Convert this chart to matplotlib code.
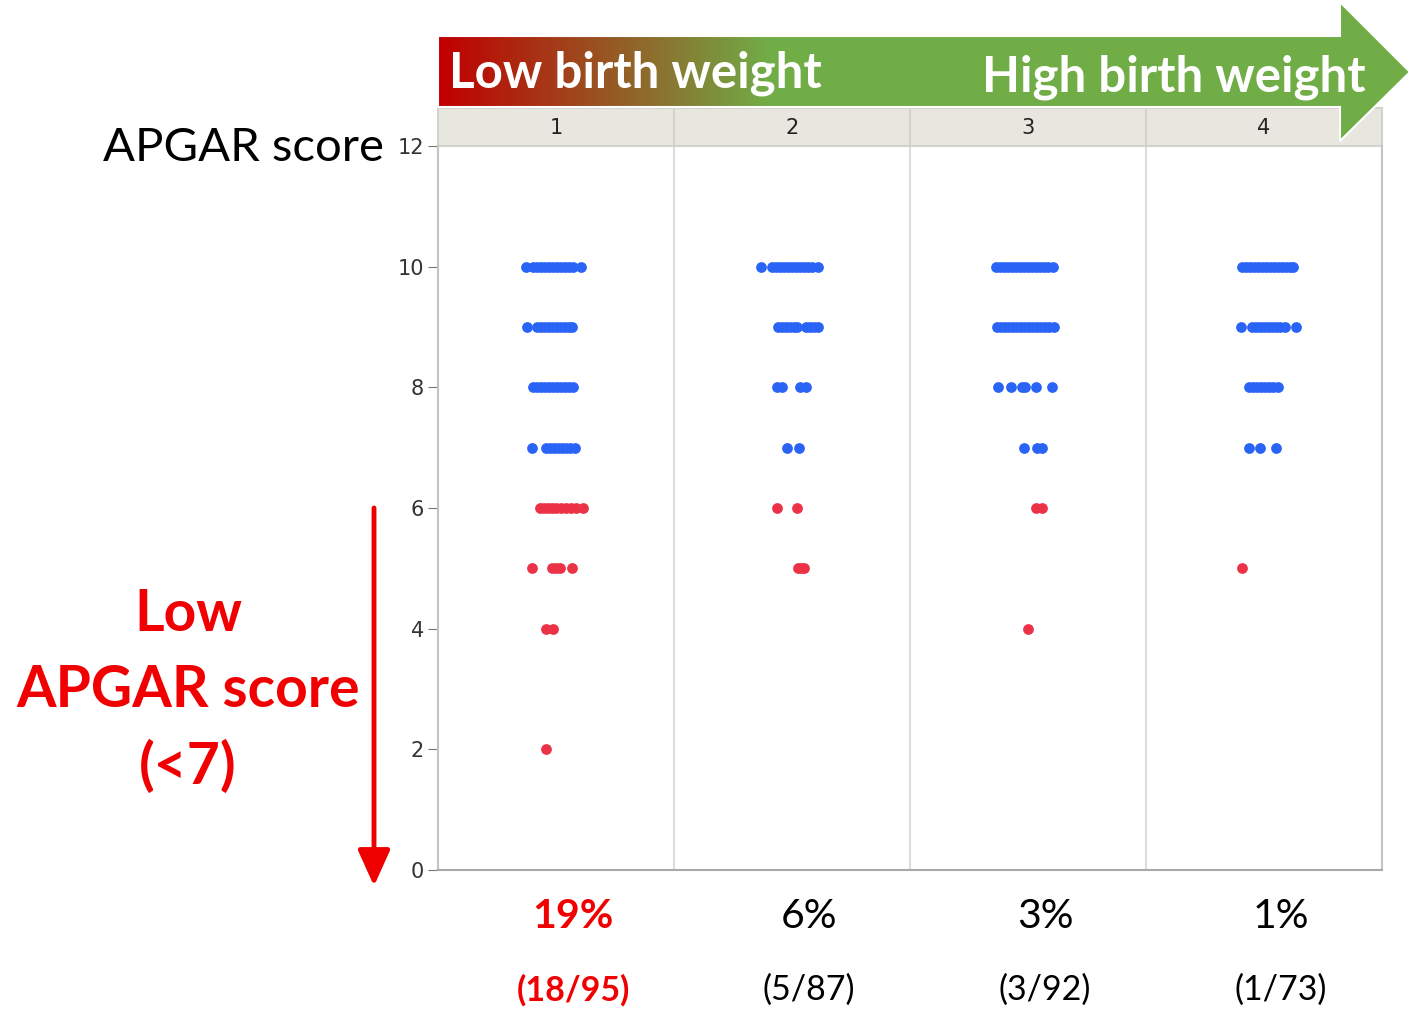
import matplotlib
matplotlib.use("Agg")
from matplotlib import pyplot as plt
from matplotlib.patches import Polygon, Rectangle
from matplotlib.colors import LinearSegmentedColormap
import numpy as np

# birth weight groups (1 = lowest)
groups = [1, 2, 3, 4]
low_pct = ["19%", "6%", "3%", "1%"]
low_frac = ["(18/95)", "(5/87)", "(3/92)", "(1/73)"]

# APGAR score -> horizontal jitter (fraction of group width) of each visible dot
g1_dots = {
    10: [-0.127, -0.097, -0.081, -0.064, -0.047, -0.030, -0.013, 0.004, 0.021, 0.038, 0.055, 0.072, 0.106],
    9: [-0.123, -0.081, -0.064, -0.047, -0.030, -0.013, 0.004, 0.021, 0.038, 0.055, 0.068],
    8: [-0.097, -0.081, -0.064, -0.047, -0.030, -0.013, 0.004, 0.021, 0.038, 0.055, 0.072],
    7: [-0.102, -0.042, -0.025, -0.008, 0.008, 0.025, 0.042, 0.059, 0.081],
    6: [-0.068, -0.051, -0.034, -0.017, 0.0, 0.021, 0.042, 0.064, 0.085, 0.114],
    5: [-0.102, -0.017, 0.0, 0.017, 0.068],
    4: [-0.042, -0.013],
    2: [-0.042],
}
g2_dots = {
    10: [-0.131, -0.085, -0.068, -0.051, -0.034, -0.017, 0.0, 0.017, 0.034, 0.051, 0.068, 0.085, 0.110],
    9: [-0.059, -0.042, -0.025, -0.008, 0.008, 0.021, 0.059, 0.076, 0.093, 0.110],
    8: [-0.064, -0.042, 0.034, 0.059],
    7: [-0.021, 0.030],
    6: [-0.064, 0.021],
    5: [0.025, 0.038, 0.051],
}
g3_dots = {
    10: [-0.136, -0.119, -0.102, -0.085, -0.068, -0.051, -0.034, -0.017, 0.0, 0.017, 0.034, 0.051, 0.068, 0.085, 0.106],
    9: [-0.131, -0.114, -0.097, -0.081, -0.064, -0.047, -0.030, -0.013, 0.004, 0.021, 0.038, 0.055, 0.072, 0.089, 0.110],
    8: [-0.127, -0.072, -0.025, -0.013, 0.034, 0.102],
    7: [-0.017, 0.038, 0.059],
    6: [0.034, 0.059],
    4: [0.0],
}
g4_dots = {
    10: [-0.093, -0.076, -0.059, -0.042, -0.025, -0.008, 0.008, 0.025, 0.042, 0.059, 0.076, 0.093, 0.110, 0.123],
    9: [-0.097, -0.051, -0.034, -0.017, 0.0, 0.017, 0.034, 0.051, 0.068, 0.089, 0.136],
    8: [-0.064, -0.047, -0.030, -0.013, 0.004, 0.021, 0.038, 0.059],
    7: [-0.064, -0.017, 0.051],
    5: [-0.093],
}
all_dots = [g1_dots, g2_dots, g3_dots, g4_dots]

BLUE = "#2A64F6"
RED = "#EC3246"
TXT_RED = "#F00000"
W, H = 1410, 1009

fig = plt.figure(figsize=(W / 100, H / 100), dpi=100)
ax = fig.add_axes([438 / W, 1 - 870 / H, 944 / W, 724 / H])

for g, dots in zip(groups, all_dots):
    for score, jit in dots.items():
        xs = [g + j for j in jit]
        ys = [score] * len(jit)
        ax.scatter(xs, ys, s=60, color=RED if score < 7 else BLUE, linewidths=0, zorder=3)

ax.set_xlim(0.5, 4.5)
ax.set_ylim(0, 12)
ax.set_yticks(range(0, 13, 2))
ax.set_xticks([])
ax.tick_params(axis="y", length=7, color="#777777", labelsize=15, labelcolor="#333333", pad=3)
for sp in ["left", "right"]:
    ax.spines[sp].set_color("#C4C4C4")
    ax.spines[sp].set_linewidth(1.5)
ax.spines["bottom"].set_color("#A8A8A8")
ax.spines["bottom"].set_linewidth(1.5)
ax.spines["top"].set_visible(False)
for xv in [1.5, 2.5, 3.5]:
    ax.axvline(xv, color="#DCDCDC", lw=1.5, zorder=1)

# strip headers
for g in groups:
    ax.add_patch(Rectangle((g - 0.5, 12), 1, 0.63, facecolor="#E8E7DF", edgecolor="#D4D3CA",
                           lw=1.5, clip_on=False, zorder=2))
    ax.text(g, 12.3, str(g), ha="center", va="center", fontsize=15, color="#222222")

# percentages below each group
for g, p, f in zip(groups, low_pct, low_frac):
    c = TXT_RED if g == 1 else "black"
    wt = "bold" if g == 1 else "normal"
    ax.text(g + 0.072, -0.08, p, transform=ax.get_xaxis_transform(), ha="center", va="baseline",
            fontsize=29.5, color=c, fontweight=wt, family="Lato")
    ax.text(g + 0.072, -0.18, f, transform=ax.get_xaxis_transform(), ha="center", va="baseline",
            fontsize=24.5, color=c, fontweight=wt, family="Lato")

# overlay in pixel coordinates for annotations
ov = fig.add_axes([0, 0, 1, 1], zorder=5)
ov.set_xlim(0, W)
ov.set_ylim(H, 0)
ov.axis("off")
ov.patch.set_alpha(0)

arrow_pts = [(438, 36), (1340, 36), (1340, 2), (1410, 72), (1340, 141), (1340, 107), (438, 107)]
poly = Polygon(arrow_pts, closed=True, facecolor="none", edgecolor="white", lw=1.5)
ov.add_patch(poly)
cmap = LinearSegmentedColormap.from_list("bw", [(0, "#C00000"), (0.34, "#70AD47"), (1, "#70AD47")])
grad = np.linspace(0, 1, 256).reshape(1, -1)
im = ov.imshow(grad, cmap=cmap, extent=(438, 1410, 142, 0), aspect="auto", interpolation="bilinear")
im.set_clip_path(poly)

ov.text(449, 88, "Low birth weight", color="white", fontsize=35.5, fontweight="bold", family="Lato", va="baseline")
ov.text(1366, 92, "High birth weight", color="white", fontsize=35.5, fontweight="bold", family="Lato",
        va="baseline", ha="right")
ov.text(103, 161, "APGAR score", color="black", fontsize=34, family="Lato", va="baseline")

for txt, yb in [("Low", 631), ("APGAR score", 707), ("(<7)", 784)]:
    ov.text(188, yb, txt, color=TXT_RED, fontsize=41, fontweight="bold", family="Lato",
            va="baseline", ha="center")

ov.annotate("", xy=(374, 886), xytext=(374, 508),
            arrowprops=dict(arrowstyle="-|>,head_length=1.0,head_width=0.45", color="#EE0000", lw=3.5,
                            mutation_scale=22, shrinkA=0, shrinkB=0))

fig.savefig("out.png", dpi=100)
